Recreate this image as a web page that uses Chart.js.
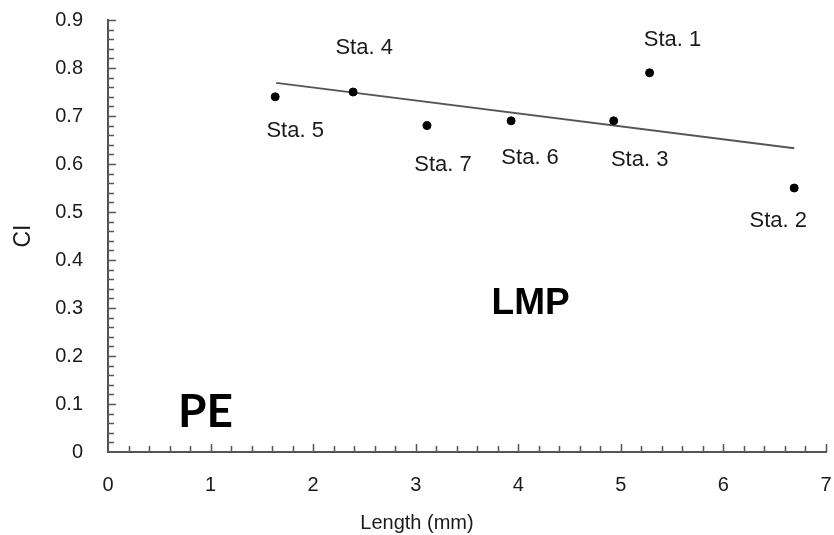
<!DOCTYPE html>
<html>
<head>
<meta charset="utf-8">
<script src="https://cdn.jsdelivr.net/npm/chart.js@4"></script>
<style>
  html, body { margin: 0; padding: 0; background: #fff; }
  #wrap { width: 834px; height: 535px; }
</style>
</head>
<body>
<div id="wrap"><canvas id="chart"></canvas></div>
<script>
// Station data
const stations = ['Sta. 1', 'Sta. 2', 'Sta. 3', 'Sta. 4', 'Sta. 5', 'Sta. 6', 'Sta. 7'];
const lengthMm = [5.28, 6.69, 4.93, 2.39, 1.63, 3.93, 3.11];
const ciValues = [0.79, 0.55, 0.69, 0.75, 0.74, 0.69, 0.68];

// Linear trend line end points
const trendX = [1.64, 6.69];
const trendY = [0.769, 0.633];

// Label offsets (px) relative to each point, same order as stations
const labelOffsets = [[23, -33], [-16, 33], [26, 39], [11, -44], [20, 34], [19, 37], [16, 39]];

const FONT = "'Liberation Sans', Arial, sans-serif";

// Minor ticks pointing inward + point labels + region labels
const decorPlugin = {
  id: 'decor',
  afterDraw(chart) {
    const ctx = chart.ctx;
    const xs = chart.scales.x;
    const ys = chart.scales.y;
    const area = chart.chartArea;
    ctx.save();
    ctx.strokeStyle = '#555';
    ctx.lineWidth = 1.5;
    ctx.beginPath();
    for (let i = 1; i <= 35; i++) {
      const px = Math.round(xs.getPixelForValue(i * 0.2)) + 0.5;
      const len = i % 5 === 0 ? 8 : 6;
      ctx.moveTo(px, area.bottom);
      ctx.lineTo(px, area.bottom - len);
    }
    for (let i = 1; i <= 45; i++) {
      const py = Math.round(ys.getPixelForValue(i * 0.02)) + 0.5;
      const len = i % 5 === 0 ? 8 : 6;
      ctx.moveTo(area.left, py);
      ctx.lineTo(area.left + len, py);
    }
    ctx.stroke();

    // station labels
    ctx.fillStyle = '#1a1a1a';
    ctx.font = '22px ' + FONT;
    ctx.textAlign = 'center';
    ctx.textBaseline = 'middle';
    stations.forEach((name, i) => {
      const px = xs.getPixelForValue(lengthMm[i]);
      const py = ys.getPixelForValue(ciValues[i]);
      ctx.fillText(name, px + labelOffsets[i][0], py + labelOffsets[i][1]);
    });

    // x axis title, centred on the whole figure
    ctx.font = '20px ' + FONT;
    ctx.fillText('Length (mm)', chart.width / 2, 523);

    // region labels
    ctx.fillStyle = '#000';
    ctx.font = 'bold 37px ' + FONT;
    ctx.fillText('LMP', xs.getPixelForValue(4.12), ys.getPixelForValue(0.308));
    ctx.font = "bold 46px Lato, 'Noto Sans', sans-serif";
    ctx.fillText('PE', xs.getPixelForValue(0.95), ys.getPixelForValue(0.083));
    ctx.restore();
  }
};

new Chart(document.getElementById('chart'), {
  type: 'scatter',
  data: {
    datasets: [
      {
        label: 'CI',
        data: lengthMm.map((x, i) => ({ x: x, y: ciValues[i] })),
        backgroundColor: '#000',
        borderColor: '#000',
        pointRadius: 4,
        pointHoverRadius: 4
      },
      {
        label: 'Trend',
        type: 'line',
        data: trendX.map((x, i) => ({ x: x, y: trendY[i] })),
        borderColor: '#555',
        borderWidth: 2,
        pointRadius: 0,
        fill: false
      }
    ]
  },
  options: {
    responsive: true,
    maintainAspectRatio: false,
    animation: false,
    layout: { padding: { left: 8, top: 20, right: 8, bottom: 0 } },
    plugins: {
      legend: { display: false },
      tooltip: { enabled: false }
    },
    scales: {
      x: {
        type: 'linear',
        min: 0,
        max: 7,
        afterFit(scale) {
          scale.height = 83;
          scale.paddingLeft = 0;
          scale.paddingRight = 0;
        },
        border: { display: true, color: '#555', width: 2 },
        grid: { display: false, drawTicks: false },
        ticks: {
          stepSize: 1,
          padding: 21,
          color: '#1a1a1a',
          font: { family: FONT, size: 20 }
        },
        title: { display: false }
      },
      y: {
        type: 'linear',
        min: 0,
        max: 0.9,
        afterFit(scale) {
          scale.width = 100;
          scale.paddingTop = 0;
          scale.paddingBottom = 0;
        },
        border: { display: true, color: '#555', width: 2 },
        grid: { display: false, drawTicks: false },
        ticks: {
          stepSize: 0.1,
          padding: 25,
          color: '#1a1a1a',
          font: { family: FONT, size: 20 }
        },
        title: {
          display: true,
          text: 'CI',
          color: '#1a1a1a',
          padding: { top: 2, bottom: 0 },
          font: { family: FONT, size: 23 }
        }
      }
    }
  },
  plugins: [decorPlugin]
});
</script>
</body>
</html>
